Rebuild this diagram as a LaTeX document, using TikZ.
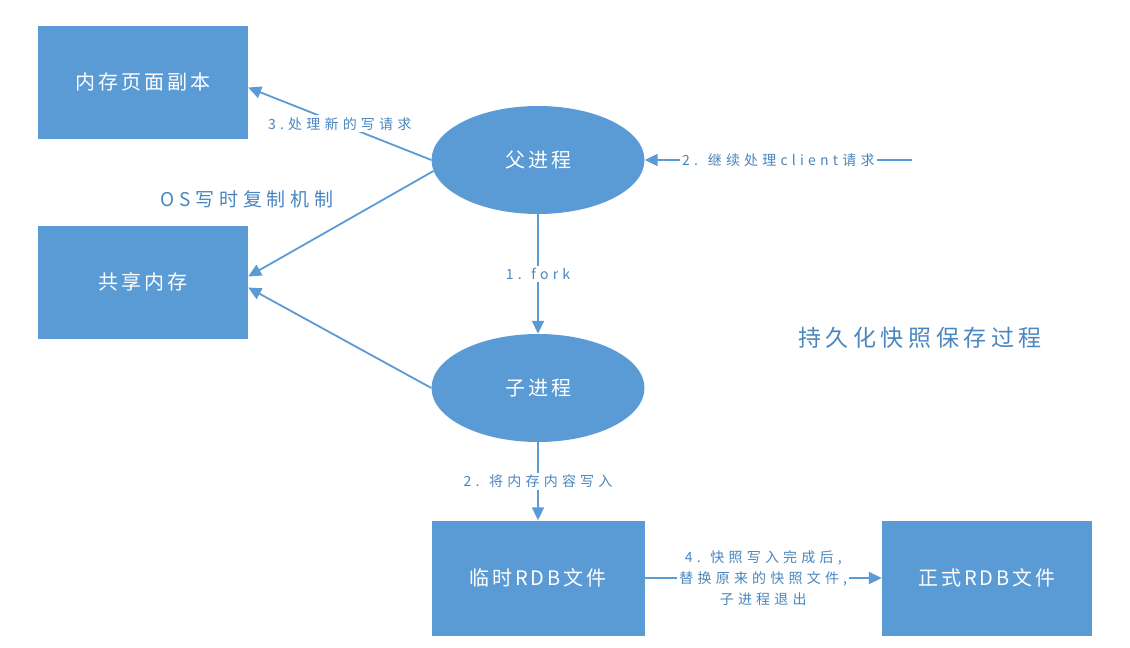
\documentclass[tikz,border=0pt]{standalone}
\usepackage{fontspec}
\setmainfont{Noto Sans CJK SC}
\newfontfamily\boxfont[LetterSpace=15]{Noto Sans CJK SC}
\newfontfamily\labfont[LetterSpace=30]{Noto Sans CJK SC}
\newfontfamily\osfont[LetterSpace=25]{Noto Sans CJK SC}
\newfontfamily\titfont[LetterSpace=20]{Noto Sans CJK SC}
\usetikzlibrary{shapes.geometric,arrows.meta}
\definecolor{fillblue}{HTML}{5B9BD5}
\definecolor{lineblue}{HTML}{5B9BD5}
\definecolor{labblue}{HTML}{4A86C0}
\tikzset{
  box/.style={rectangle,fill=fillblue,minimum width=210pt,minimum height=113pt,inner sep=0pt,text=white,font=\boxfont\fontsize{20pt}{22pt}\selectfont},
  proc/.style={ellipse,fill=fillblue,minimum width=213pt,minimum height=108pt,inner sep=0pt,text=white,font=\boxfont\fontsize{20pt}{22pt}\selectfont},
  conn/.style={draw=lineblue,line width=1.8pt,-{Triangle[length=13pt,width=12pt]}},
  lab/.style={fill=white,inner sep=2pt,text=labblue,align=center,font=\labfont\fontsize{14pt}{21pt}\selectfont},
  title/.style={text=labblue,inner sep=0pt}
}
\begin{document}
\begin{tikzpicture}[x=1pt,y=1pt]
\useasboundingbox (0,0) rectangle (1130,-648);
\node[box] (m1) at (143,-82) {内存页面副本};
\node[box] (s) at (143,-282) {共享内存};
\node[proc] (p) at (538,-160) {父进程};
\node[proc] (c) at (538,-388) {子进程};
\node[box,minimum width=213pt,minimum height=115pt] (t) at (538,-578) {临时RDB文件};
\node[box,minimum width=210pt,minimum height=115pt] (f) at (987,-578) {正式RDB文件};
\coordinate (cl) at (912,-160);

\draw[conn] (p.180) -- node[lab,pos=0.5] {3.处理新的写请求} (m1.-3);
\draw[conn] (p.186) -- (s.3);
\draw[conn] (c.180) -- (s.-3);
\draw[conn] (p.south) -- node[lab] {1. fork} (c.north);
\draw[conn] (cl) -- node[lab] {2. 继续处理client请求} (p.east);
\draw[conn] (c.south) -- node[lab] {2. 将内存内容写入} (t.north);
\draw[conn] (t.east) -- node[lab,pos=0.5] {4. 快照写入完成后,\\替换原来的快照文件,\\子进程退出} (f.west);

\node[title,font=\osfont\fontsize{19pt}{22pt}\selectfont] (os) at (247,-199) {OS写时复制机制};
\node[title,font=\titfont\fontsize{23pt}{26pt}\selectfont] (tt) at (920,-338) {持久化快照保存过程};
\end{tikzpicture}
\end{document}
